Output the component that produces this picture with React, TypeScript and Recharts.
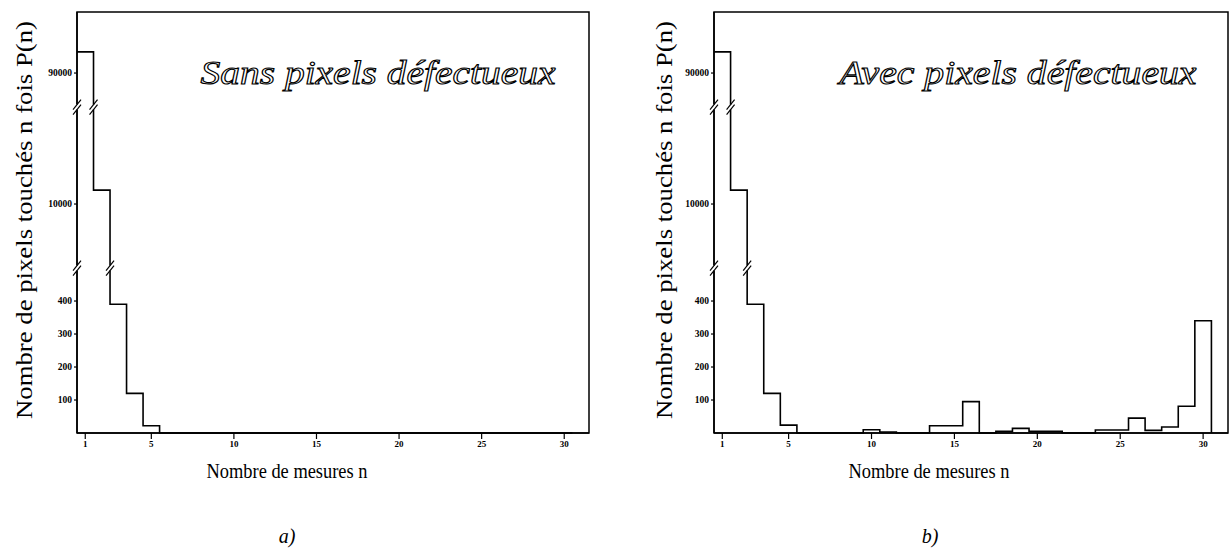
import { LineChart, Line, XAxis, YAxis, ReferenceArea, ReferenceDot } from 'recharts';

// n = number of measurements
const mesures = [1, 2, 3, 4, 5, 6, 7, 8, 9, 10, 11, 12, 13, 14, 15, 16, 17, 18, 19, 20, 21, 22, 23, 24, 25, 26, 27, 28, 29, 30];

// P(n) without / with defective pixels
const sansDefauts = [93200, 11050, 390, 120, 22, 0, 0, 0, 0, 0, 0, 0, 0, 0, 0, 0, 0, 0, 0, 0, 0, 0, 0, 0, 0, 0, 0, 0, 0, 0];
const avecDefauts = [93200, 11050, 390, 120, 24, 0, 0, 0, 0, 10, 3, 0, 0, 22, 22, 95, 0, 5, 14, 5, 5, 0, 0, 9, 9, 45, 8, 18, 81, 340];

const xTicks = [1, 5, 10, 15, 20, 25, 30];
const yTickValues = [100, 200, 300, 400, 10000, 90000];

// broken y axis: each real range is squeezed into its own band of the axis
const Y_SEGMENTS = [
    { from: 0, to: 500, d0: 0, d1: 500 },
    { from: 5150, to: 17350, d0: 500, d1: 988 },
    { from: 84850, to: 99250, d0: 988, d1: 1276 },
];
const Y_MAX = 1276;
const X_DOMAIN: [number, number] = [0.5, 31.5];

const SERIF = '"Liberation Serif", "Times New Roman", serif';

function toAxis(v: number) {
    const seg = Y_SEGMENTS.find((s) => v <= s.to) || Y_SEGMENTS[Y_SEGMENTS.length - 1];
    return seg.d0 + ((v - seg.from) / (seg.to - seg.from)) * (seg.d1 - seg.d0);
}

const yTicks = yTickValues.map(toAxis);

// histogram outline: one step per bin, closed down to 0 after the last bin
function buildSteps(counts: number[]) {
    const pts = mesures.map((n, i) => ({ x: n - 0.5, y: toAxis(counts[i]) }));
    pts.push({ x: mesures[mesures.length - 1] + 0.5, y: 0 });
    return pts;
}

// where the "//" marks sit: on the y axis and on the first two bin edges
const breaks = [
    { x: X_DOMAIN[0], y: Y_SEGMENTS[1].d0 },
    { x: X_DOMAIN[0], y: Y_SEGMENTS[2].d0 },
    { x: mesures[0] + 0.5, y: Y_SEGMENTS[2].d0 },
    { x: mesures[1] + 0.5, y: Y_SEGMENTS[1].d0 },
];

const BreakMark = (props: any) => {
    const { cx, cy } = props;
    if (cx == null || cy == null) return <g />;
    return (
        <g>
            <rect x={cx - 3} y={cy - 2.5} width={6} height={5} fill="#fff" />
            <line x1={cx - 4} y1={cy - 2.5 + 5} x2={cx + 4} y2={cy - 2.5 - 5} stroke="#000" strokeWidth={1.2} />
            <line x1={cx - 4} y1={cy + 2.5 + 5} x2={cx + 4} y2={cy + 2.5 - 5} stroke="#000" strokeWidth={1.2} />
        </g>
    );
};

interface PanelProps {
    counts: number[];
    left: number;
    width: number;
    rightMargin: number;
}

function Panel({ counts, left, width, rightMargin }: PanelProps) {
    const data = buildSteps(counts);
    return (
        <div style={{ position: 'absolute', left, top: 0 }}>
            <LineChart width={width} height={460} data={data} margin={{ top: 12, right: rightMargin, left: 0, bottom: 0 }}>
                <XAxis
                    dataKey="x"
                    type="number"
                    domain={X_DOMAIN}
                    ticks={xTicks}
                    allowDataOverflow
                    height={27}
                    tickSize={6}
                    tickLine={{ stroke: '#000', strokeWidth: 1.2 }}
                    axisLine={{ stroke: '#000', strokeWidth: 1.5 }}
                    tick={{ fontSize: 9, fill: '#000', fontWeight: 'bold', fontFamily: SERIF }}
                />
                <YAxis
                    type="number"
                    domain={[0, Y_MAX]}
                    ticks={yTicks}
                    width={77}
                    tickSize={3}
                    tickLine={{ stroke: '#000', strokeWidth: 1.2 }}
                    axisLine={{ stroke: '#000', strokeWidth: 1.5 }}
                    tickFormatter={(d: number) => String(yTickValues[yTicks.indexOf(d)] ?? '')}
                    tick={{ fontSize: 9.5, fill: '#000', fontWeight: 'bold', fontFamily: SERIF }}
                />
                <ReferenceArea x1={X_DOMAIN[0]} x2={X_DOMAIN[1]} y1={0} y2={Y_MAX} fill="none" stroke="#000" strokeWidth={1.5} />
                <Line type="stepAfter" dataKey="y" stroke="#000" strokeWidth={1.6} dot={false} isAnimationActive={false} />
                {breaks.map((b, i) => (
                    <ReferenceDot key={i} x={b.x} y={b.y} r={4} ifOverflow="visible" shape={BreakMark} />
                ))}
            </LineChart>
        </div>
    );
}

export default function App() {
    return (
        <div style={{ position: 'absolute', left: 0, top: 0, width: 1230, height: 558, background: '#fff', overflow: 'hidden' }}>
            <Panel counts={sansDefauts} left={0} width={600} rightMargin={11} />
            <Panel counts={avecDefauts} left={637} width={593} rightMargin={2} />
            <svg width={1230} height={558} style={{ position: 'absolute', left: 0, top: 0, pointerEvents: 'none' }}>
                <g fontFamily={SERIF} fill="#000">
                    <text x={32} y={220} fontSize={23} textAnchor="middle" textLength={398} lengthAdjust="spacingAndGlyphs" transform="rotate(-90, 32, 220)">
                        Nombre de pixels touchés n fois P(n)
                    </text>
                    <text x={672} y={220} fontSize={23} textAnchor="middle" textLength={398} lengthAdjust="spacingAndGlyphs" transform="rotate(-90, 672, 220)">
                        Nombre de pixels touchés n fois P(n)
                    </text>
                    <text x={287} y={478} fontSize={22} textAnchor="middle" textLength={161} lengthAdjust="spacingAndGlyphs">
                        Nombre de mesures n
                    </text>
                    <text x={929} y={478} fontSize={22} textAnchor="middle" textLength={161} lengthAdjust="spacingAndGlyphs">
                        Nombre de mesures n
                    </text>
                    <text x={287} y={543} fontSize={20} fontStyle="italic" textAnchor="middle">a)</text>
                    <text x={930} y={543} fontSize={20} fontStyle="italic" textAnchor="middle">b)</text>
                </g>
                <g fontFamily={SERIF} fontStyle="italic" fill="#fff" stroke="#000" strokeWidth={1.1}>
                    <text x={378} y={84} fontSize={34} textAnchor="middle" textLength={355} lengthAdjust="spacingAndGlyphs">
                        Sans pixels défectueux
                    </text>
                    <text x={1018} y={84} fontSize={34} textAnchor="middle" textLength={357} lengthAdjust="spacingAndGlyphs">
                        Avec pixels défectueux
                    </text>
                </g>
            </svg>
        </div>
    );
}
